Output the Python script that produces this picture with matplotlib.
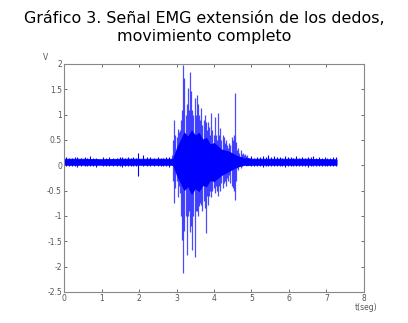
import matplotlib
matplotlib.use("Agg")
import matplotlib.pyplot as plt

title_text = "Gráfico 3. Señal EMG extensión de los dedos,\nmovimiento completo"
x_ticks = [0, 1, 2, 3, 4, 5, 6, 7, 8]
y_ticks = [-2.5, -2, -1.5, -1, -0.5, 0, 0.5, 1, 1.5, 2]
y_tick_labels = ["-2.5", "-2", "-1.5", "-1", "-0.5", "0", "0.5", "1", "1.5", "2"]

# quiet baseline band (envelope)
band_t = [0.0, 0.5, 1.0, 1.5, 2.0, 2.5, 2.9, 2.95]
band_hi = [0.13, 0.13, 0.12, 0.13, 0.13, 0.13, 0.13, 0.14]
band_lo = [0.01, 0.01, 0.01, 0.01, 0.01, 0.01, 0.01, 0.0]
band2_t = [4.85, 5.0, 5.5, 6.0, 6.5, 7.0, 7.27]
band2_hi = [0.15, 0.13, 0.13, 0.13, 0.13, 0.12, 0.12]
band2_lo = [0.0, 0.01, 0.01, 0.01, 0.01, 0.01, 0.01]

# small spikes in quiet parts
qs_t = [0.05, 0.12, 0.2, 0.28, 0.35, 0.45, 0.55, 0.62, 0.7, 0.78, 0.85, 1.05, 1.12, 1.2, 1.3, 1.4, 1.48,
        1.55, 1.62, 1.7, 1.78, 1.85, 1.92, 1.98, 2.1, 2.2, 2.3, 2.4, 2.5, 2.58, 2.65, 2.72, 2.8,
        5.0, 5.08, 5.15, 5.22, 5.3, 5.38, 5.45, 5.52, 5.6, 5.68, 5.75, 5.82, 5.9, 5.98, 6.05, 6.12,
        6.2, 6.28, 6.35, 6.42, 6.5, 6.58, 6.65, 6.72, 6.8, 6.88, 6.95, 7.02, 7.1, 7.18, 7.25]
qs_hi = [0.16, 0.14, 0.15, 0.16, 0.17, 0.15, 0.16, 0.15, 0.18, 0.15, 0.15, 0.16, 0.15, 0.17, 0.15, 0.15, 0.16,
         0.16, 0.15, 0.17, 0.15, 0.16, 0.15, 0.25, 0.2, 0.16, 0.17, 0.15, 0.16, 0.15, 0.15, 0.16, 0.17,
         0.18, 0.15, 0.17, 0.16, 0.19, 0.16, 0.2, 0.17, 0.18, 0.16, 0.17, 0.15, 0.19, 0.16, 0.17, 0.15,
         0.18, 0.15, 0.16, 0.15, 0.17, 0.16, 0.18, 0.15, 0.16, 0.15, 0.17, 0.15, 0.15, 0.16, 0.16]
qs_lo = [-0.02, -0.01, -0.01, -0.02, -0.03, -0.01, -0.02, -0.01, -0.01, -0.02, -0.03, -0.02, -0.01, -0.01, -0.02, -0.02, -0.01,
         -0.03, -0.01, -0.01, -0.02, -0.02, -0.01, -0.22, -0.01, -0.02, -0.02, -0.01, -0.01, -0.02, -0.02, -0.01, -0.03,
         -0.02, -0.01, -0.01, -0.02, -0.03, -0.01, -0.02, -0.01, -0.01, -0.02, -0.02, -0.01, -0.03, -0.01, -0.01, -0.02,
         -0.02, -0.01, -0.01, -0.02, -0.03, -0.01, -0.02, -0.01, -0.01, -0.02, -0.02, -0.01, -0.01, -0.02, -0.02]

# burst core envelope
core_t = [2.9, 3.0, 3.1, 3.2, 3.3, 3.4, 3.5, 3.6, 3.7, 3.8, 3.9, 4.0, 4.2, 4.4, 4.6, 4.8, 4.9]
core_hi = [0.14, 0.35, 0.5, 0.66, 0.58, 0.7, 0.6, 0.65, 0.52, 0.55, 0.42, 0.45, 0.32, 0.28, 0.2, 0.15, 0.14]
core_lo = [0.0, -0.2, -0.35, -0.5, -0.42, -0.58, -0.46, -0.52, -0.4, -0.42, -0.3, -0.32, -0.2, -0.12, -0.04, 0.0, 0.01]

# burst spikes (max / min per instant)
sp_t = [2.88, 2.91, 2.94, 2.97, 3.00, 3.03, 3.06, 3.09, 3.12, 3.15, 3.18, 3.21, 3.24, 3.27, 3.30,
        3.33, 3.36, 3.39, 3.42, 3.45, 3.48, 3.51, 3.54, 3.57, 3.60, 3.63, 3.66, 3.69, 3.72, 3.75,
        3.78, 3.81, 3.84, 3.87, 3.90, 3.93, 3.96, 3.99, 4.02, 4.05, 4.08, 4.11, 4.14, 4.17, 4.20,
        4.23, 4.26, 4.29, 4.32, 4.35, 4.38, 4.41, 4.44, 4.47, 4.50, 4.53, 4.56, 4.59, 4.62, 4.65,
        4.68, 4.71, 4.74, 4.77, 4.80, 4.83, 4.86, 4.89]
sp_hi = [0.2, 0.5, 0.89, 0.6, 0.55, 0.72, 0.65, 0.7, 0.9, 1.1, 1.98, 1.72, 1.0, 1.2, 1.52,
         1.1, 1.85, 1.47, 1.1, 1.0, 1.33, 1.0, 1.39, 1.2, 1.0, 0.9, 1.13, 0.8, 0.9, 1.0,
         0.85, 0.7, 0.86, 0.75, 0.6, 1.03, 0.7, 0.6, 0.95, 0.6, 0.5, 1.03, 0.6, 0.73, 0.5,
         0.6, 0.55, 0.45, 0.5, 0.4, 0.35, 0.45, 0.4, 0.55, 0.5, 0.6, 1.43, 0.46, 0.3, 0.35,
         0.25, 0.3, 0.22, 0.25, 0.2, 0.22, 0.18, 0.2]
sp_lo = [0.0, -0.3, -0.75, -0.45, -0.3, -0.62, -0.4, -0.55, -1.0, -1.47, -2.12, -1.3, -1.0, -1.77, -1.0,
         -0.9, -1.31, -1.2, -1.67, -1.0, -1.8, -0.9, -0.91, -1.0, -0.8, -0.75, -0.78, -0.9, -0.7, -0.85,
         -1.34, -0.6, -0.78, -0.6, -0.5, -0.62, -0.5, -0.45, -0.55, -0.4, -0.5, -0.6, -0.4, -0.5, -0.35,
         -0.45, -0.35, -0.3, -0.4, -0.25, -0.3, -0.2, -0.35, -0.4, -0.45, -0.5, -0.68, -0.3, -0.05, -0.1,
         0.0, -0.05, -0.02, 0.0, 0.0, 0.0, 0.02, 0.0]

blue = "#0000ff"
gray = "#555555"

fig = plt.figure(figsize=(4.08, 3.23), dpi=100)
ax = fig.add_axes([0.157, 0.096, 0.735, 0.706])

ax.fill_between(band_t, band_lo, band_hi, color=blue, lw=0.6, edgecolor=blue)
ax.fill_between(band2_t, band2_lo, band2_hi, color=blue, lw=0.6, edgecolor=blue)
ax.vlines(qs_t, qs_lo, qs_hi, color=blue, lw=0.8)
ax.fill_between(core_t, core_lo, core_hi, color=blue, lw=0)
ax.vlines(sp_t, sp_lo, sp_hi, color=blue, lw=0.9, alpha=0.7)

ax.set_xlim(0, 8)
ax.set_ylim(-2.5, 2)
ax.set_xticks(x_ticks)
ax.set_xticklabels([str(v) for v in x_ticks])
ax.set_yticks(y_ticks)
ax.set_yticklabels(y_tick_labels)
ax.tick_params(direction="in", length=2.5, width=0.6, labelsize=5.5, colors=gray,
               top=True, right=True, pad=1.5)
for s in ax.spines.values():
    s.set_color("#888888")
    s.set_linewidth(0.8)

fig.text(0.5, 1 - 27.5 / 323, title_text, ha="center", va="center", fontsize=11.4,
         family=["DejaVu Sans"], linespacing=1.25, color="black")
fig.text(45.7 / 408, 1 - 57 / 323, "V", ha="center", va="center", fontsize=5.5, color=gray)
fig.text(366 / 408, 1 - 303.5 / 323, "t(seg)", ha="center", va="top", fontsize=5.5, color=gray)

fig.savefig("out.png", dpi=100)
